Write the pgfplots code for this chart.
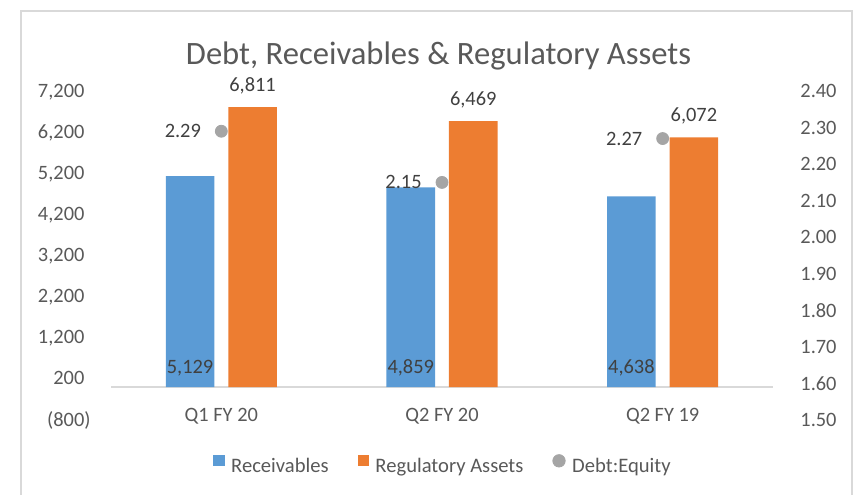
\documentclass[border=0pt]{standalone}
\usepackage{fontspec}
\setmainfont{Carlito}
\usepackage{pgfplots}
\pgfplotsset{compat=1.18}
\definecolor{blueC}{HTML}{5B9BD5}
\definecolor{orangeC}{HTML}{ED7D31}
\definecolor{grayC}{HTML}{A5A5A5}
\definecolor{textC}{HTML}{595959}
\definecolor{labelC}{HTML}{404040}
\definecolor{lineC}{HTML}{D9D9D9}
\begin{document}
\begin{tikzpicture}
\useasboundingbox (0,0) rectangle (430.5pt,-247pt);
\draw[lineC, line width=0.9pt] (10.5pt,-250pt) -- (10.5pt,-5.5pt) -- (426pt,-5.5pt) -- (426pt,-250pt);
\node[anchor=base, text=textC, font=\fontsize{16.3}{19}\selectfont, inner sep=0pt] at (219.25pt,-32.25pt) {Debt, Receivables \& Regulatory Assets};

\begin{axis}[
  at={(55.5pt,-210pt)}, anchor=south west,
  scale only axis, width=331pt, height=164.5pt,
  xmin=-0.5, xmax=2.5, ymin=-800, ymax=7200,
  axis line style={draw=none}, tick style={draw=none}, major tick length=0pt,
  xtick={0,1,2}, xticklabels={Q1 FY 20,Q2 FY 20,Q2 FY 19},
  ytick={-800,200,1200,2200,3200,4200,5200,6200,7200},
  yticklabels={(800),200\phantom{)},{1,200\phantom{)}},{2,200\phantom{)}},{3,200\phantom{)}},{4,200\phantom{)}},{5,200\phantom{)}},{6,200\phantom{)}},{7,200\phantom{)}}},
  ticklabel style={font=\fontsize{10.2}{12}\selectfont, text=textC, inner sep=0pt},
  yticklabel style={anchor=east, xshift=-10pt},
  xticklabel style={anchor=base, yshift=-0.5pt},
  ybar, bar width=0.22,
  /pgf/number format/assume math mode=true,
  legend columns=3,
  legend style={at={(0.5,-0.137)}, anchor=center, draw=none, fill=none,
    font=\fontsize{10.3}{12}\selectfont, text=textC,
    nodes={inner sep=0pt},
    /tikz/every odd column/.append style={column sep=3.3pt},
    /tikz/every even column/.append style={column sep=14.5pt}},
  clip=false,
]
\draw[lineC, line width=0.75pt] (axis cs:-0.5,0) -- (axis cs:2.5,0);
\addplot[fill=blueC, draw=none, bar shift=-0.1416,
  legend image code/.code={\fill[blueC] (0pt,0.8pt) rectangle (5.6pt,6.4pt);},
  nodes near coords,
  visualization depends on={y \as \rawy},
  every node near coord/.append style={shift={(axis direction cs:0,-\rawy)}, anchor=base, yshift=7pt, inner sep=0pt, text=labelC, font=\fontsize{10.2}{12}\selectfont}]
  coordinates {(0,5129) (1,4859) (2,4638)};
\addplot[fill=orangeC, draw=none, bar shift=0.1416,
  legend image code/.code={\fill[orangeC] (0pt,0.8pt) rectangle (5.6pt,6.4pt);},
  nodes near coords,
  every node near coord/.append style={anchor=base, yshift=8pt, inner sep=0pt, text=labelC, font=\fontsize{10.2}{12}\selectfont}]
  coordinates {(0,6811) (1,6469) (2,6072)};
\addlegendimage{legend image code/.code={\fill[grayC] (3.1pt,3.25pt) circle (3.1pt);}}
\legend{Receivables, Regulatory Assets, Debt:Equity}
\end{axis}

\begin{axis}[
  at={(55.5pt,-210pt)}, anchor=south west,
  scale only axis, width=331pt, height=164.5pt,
  xmin=-0.5, xmax=2.5, ymin=1.5, ymax=2.4,
  axis line style={draw=none}, tick style={draw=none}, major tick length=0pt,
  xtick=\empty,
  yticklabel pos=right,
  ytick={1.5,1.6,1.7,1.8,1.9,2.0,2.1,2.2,2.3,2.4},
  /pgf/number format/assume math mode=true,
  yticklabel style={/pgf/number format/.cd, fixed, fixed zerofill, precision=2, /tikz/.cd,
    anchor=west, xshift=13.5pt, inner sep=0pt, font=\fontsize{10.2}{12}\selectfont, text=textC},
  clip=false,
]
\addplot[only marks, mark=*, mark size=3pt, color=grayC,
  nodes near coords, point meta=y,
  every node near coord/.append style={anchor=east, xshift=-10pt, inner sep=0pt, text=labelC,
    font=\fontsize{10.2}{12}\selectfont,
    /pgf/number format/.cd, fixed, fixed zerofill, precision=2}]
  coordinates {(0,2.29) (1,2.15) (2,2.27)};
\end{axis}
\end{tikzpicture}
\end{document}
